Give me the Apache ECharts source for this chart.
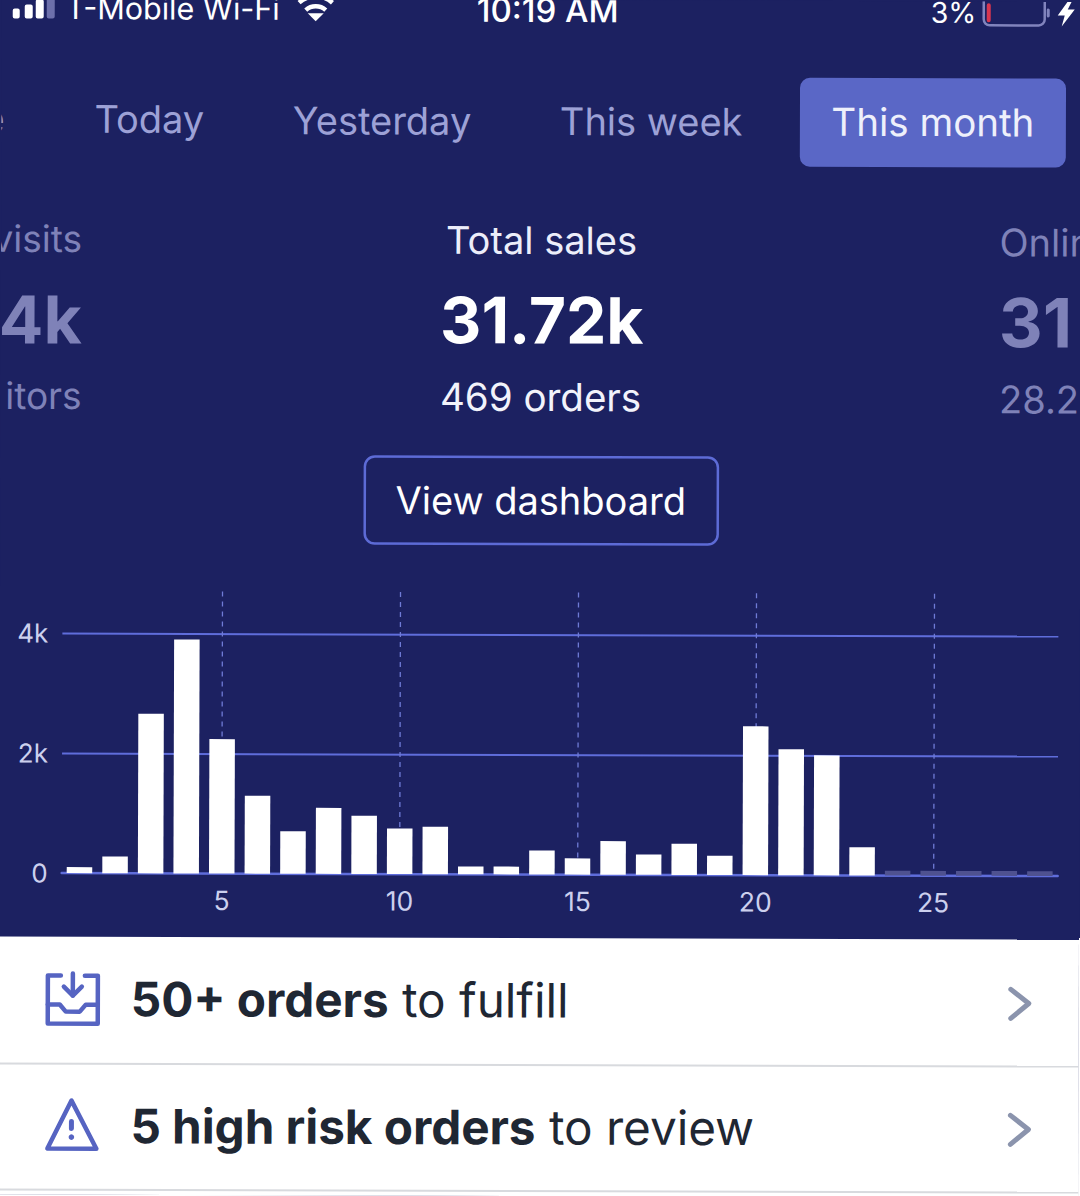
<!DOCTYPE html>
<html>
<head>
<meta charset="utf-8">
<title>Total sales</title>
<script src="https://cdn.jsdelivr.net/npm/echarts@6/dist/echarts.min.js"></script>
<style>
html,body{margin:0;padding:0;width:1080px;height:1196px;overflow:hidden;background:linear-gradient(#1c2161 0,#1c2161 938px,#fff 938px)}
#c{width:1080px;height:1196px;transform:rotate(0.17deg);transform-origin:540px 598px}
</style>
</head>
<body>
<div id="c"></div>
<script>
const days = ['1','2','3','4','5','6','7','8','9','10','11','12','13','14','15','16','17','18','19','20','21','22','23','24','25','26','27','28'];
const salesValues = [100,280,2660,3900,2240,1300,710,1100,970,760,790,130,130,400,270,560,340,520,320,2480,2100,2000,470];
const pendingValues = [80,80,80,80,80];
const yTickLabels = {0:'0',2000:'2k',4000:'4k'};
const tabLabels = ['Today','Yesterday','This week','This month'];
const summaryLabels = ['Total sales','31.72k','469 orders','View dashboard'];

const NAVY='#1c2161', FONT='Inter, "Noto Sans", sans-serif', LINE='#5f6ddb', MUTED='#7f82b8', INK='#1f2733', BLUE='#5664c2';

function txt(text,x,y,size,fill,align,weight){
  return {type:'text',z:10,x:x,y:y,style:{text:text,fill:fill,font:(weight||400)+' '+size+'px '+FONT,textAlign:align||'left',textVerticalAlign:'middle'}};
}
function poly(points,color,width){
  return {type:'polyline',z:10,shape:{points:points},style:{stroke:color,fill:'none',lineWidth:width,lineCap:'round',lineJoin:'round'}};
}
function rrect(x,y,w,h,r,style){
  return {type:'rect',z:9,shape:{x:x,y:y,width:w,height:h,r:r},style:style};
}
function rowText(bold,rest,y){
  return {type:'text',z:10,x:132,y:y,style:{
    text:'{b|'+bold+'}{r|'+rest+'}',textVerticalAlign:'middle',textAlign:'left',
    rich:{b:{font:'700 47.6px '+FONT,fill:INK},r:{font:'400 47.6px '+FONT,fill:INK}}
  }};
}

const ui = [
  {type:'rect',z:1,shape:{x:-10,y:938,width:1100,height:270},style:{fill:'#ffffff'}},
  {type:'rect',z:1,shape:{x:-10,y:1064,width:1100,height:2},style:{fill:'#d8dade'}},
  {type:'rect',z:1,shape:{x:-10,y:1190,width:1100,height:2},style:{fill:'#d8dade'}},
  // status bar
  rrect(11,10,7,10,2,{fill:'#fff'}),
  rrect(23,6,8,14,2,{fill:'#fff'}),
  rrect(34,1,8,19,2,{fill:'#fff'}),
  rrect(45,-2,8,22,2,{fill:'#6d70ab'}),
  txt('T-Mobile Wi-Fi',64,9,30.5,'#ffffff'),
  {type:'arc',z:10,shape:{cx:314,cy:22,r:25,startAngle:-2.3,endAngle:-0.84},style:{stroke:'#fff',fill:'none',lineWidth:4.5}},
  {type:'arc',z:10,shape:{cx:314,cy:22,r:15,startAngle:-2.3,endAngle:-0.84},style:{stroke:'#fff',fill:'none',lineWidth:4.5}},
  {type:'polygon',z:10,shape:{points:[[314,22],[306,14],[322,14]]},style:{fill:'#fff'}},
  txt('10:19 AM',546,10,33,'#ffffff','center',500),
  txt('3%',929,11,28.5,'#ffffff'),
  rrect(982,-6,61,30,6,{fill:'none',stroke:'#8184bd',lineWidth:2.5}),
  rrect(985,2,4,19,2,{fill:'#d8364f'}),
  rrect(1045,7,3,9,1.5,{fill:'#8184bd'}),
  {type:'polygon',z:10,shape:{points:[[1066,0],[1056,14],[1063,14],[1060,25],[1073,8],[1066,8],[1070,0]]},style:{fill:'#fff'}},
  // tabs
  txt('e',-19,120,38,'#9da1d6'),
  txt(tabLabels[0],93,120,38,'#9da1d6'),
  txt(tabLabels[1],291.5,121,38,'#9da1d6'),
  txt(tabLabels[2],558.5,121,38,'#9da1d6'),
  rrect(798.5,77,266,89,10,{fill:'#5a67c6'}),
  txt(tabLabels[3],931.5,121,38.5,'#eef0fb','center'),
  // summary
  txt('visits',81,240,37,MUTED,'right'),
  txt('4k',81,321,66,MUTED,'right',700),
  txt('itors',81,397,37,MUTED,'right'),
  txt(summaryLabels[0],540.5,240,38,'#eceefa','center'),
  txt(summaryLabels[1],541,320,64,'#ffffff','center',700),
  txt(summaryLabels[2],540,397,38.5,'#f2f3fb','center'),
  txt('Onlin',998.5,241,38,MUTED),
  txt('31',998,321,68,MUTED,'left',700),
  txt('28.2',998.5,398,38,MUTED),
  rrect(364.5,457,353,87,10,{fill:'none',stroke:'#5d6bd6',lineWidth:2.5}),
  txt(summaryLabels[3],540.5,500.5,38,'#ffffff','center'),
  // rows
  rowText('50+ orders',' to fulfill',1000),
  rowText('5 high risk orders',' to review',1127),
  // inbox icon
  poly([[62,977],[49,977],[49,1025],[99,1025],[99,977],[86,977]],BLUE,4.5),
  poly([[49,1006],[61,1006],[67,1013],[81,1013],[87,1006],[99,1006]],BLUE,4.5),
  poly([[74,975],[74,997]],BLUE,4.5),
  poly([[65,988],[74,997],[83,988]],BLUE,4.5),
  // warning icon
  {type:'polygon',z:10,shape:{points:[[73,1102],[49,1150],[98,1150]]},style:{stroke:BLUE,fill:'none',lineWidth:4.5,lineJoin:'round'}},
  poly([[73,1123],[73,1130]],BLUE,5),
  {type:'circle',z:10,shape:{cx:73,cy:1138.5,r:2.8},style:{fill:BLUE}},
  // chevrons
  poly([[1012,988],[1030,1002],[1012,1017]],'#8b94ad',5),
  poly([[1012,1114],[1030,1128],[1012,1143]],'#8b94ad',5)
];

const chart = echarts.init(document.getElementById('c'),null,{renderer:'svg',width:1080,height:1196});
chart.setOption({
  animation:false,
  backgroundColor:NAVY,
  textStyle:{fontFamily:FONT},
  graphic:{elements:ui},
  grid:{left:62.5,width:996,top:592.5,height:282},
  xAxis:{
    type:'category',data:days,boundaryGap:true,
    axisLine:{show:true,lineStyle:{color:LINE,width:2.5}},
    axisTick:{show:false},
    axisLabel:{color:'#ccd0ee',fontSize:26.5,margin:13,fontFamily:FONT,
      interval:(i,v)=>Number(v)%5===0},
    splitLine:{show:true,alignWithLabel:true,
      interval:(i,v)=>Number(v)%5===0,
      lineStyle:{color:'#6f7bd6',width:1.3,type:[5,5]}}
  },
  yAxis:{
    type:'value',min:0,max:4700,interval:2000,
    axisLine:{show:false},axisTick:{show:false},
    axisLabel:{color:'#ccd0ee',fontSize:26,margin:14,fontFamily:FONT,showMaxLabel:false,padding:[0,0,7,0],
      formatter:v=>yTickLabels[v]!==undefined?yTickLabels[v]:''},
    splitLine:{show:true,showMinLine:false,showMaxLine:false,lineStyle:{color:LINE,width:2}}
  },
  series:[
    {type:'bar',stack:'d',barWidth:25.5,silent:true,
     itemStyle:{color:'#ffffff'},data:salesValues},
    {type:'bar',stack:'d',barWidth:25.5,silent:true,
     itemStyle:{color:'#4f5290'},
     data:salesValues.map(()=>null).concat(pendingValues)}
  ]
});
</script>
</body>
</html>
